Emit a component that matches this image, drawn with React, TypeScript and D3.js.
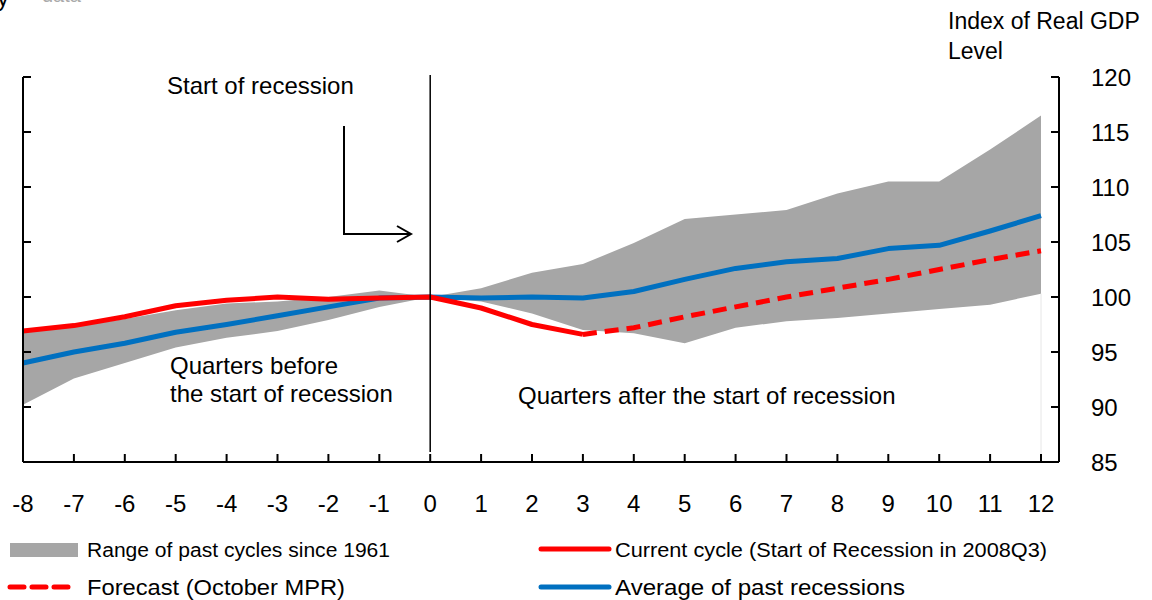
import React from "react";
import * as d3 from "d3";

const quarters = d3.range(-8, 13);
const currentCycle = [96.9, 97.4, 98.2, 99.2, 99.7, 100.0, 99.8, 99.9, 100.0, 99.0, 97.5, 96.6];
const currentQuarters = d3.range(-8, 4);
const forecast = [96.6, 97.2, 98.2, 99.1, 100.0, 100.8, 101.6, 102.5, 103.4, 104.2];
const forecastQuarters = d3.range(3, 13);
const average = [94.0, 95.0, 95.8, 96.8, 97.5, 98.3, 99.1, 99.9, 100.0, 99.9, 100.0, 99.9, 100.5, 101.6, 102.6, 103.2, 103.5, 104.4, 104.7, 106.0, 107.4];
const rangeUpper = [97.0, 97.3, 98.0, 98.8, 99.4, 99.6, 100.0, 100.6, 100.0, 100.8, 102.2, 103.0, 104.9, 107.1, 107.5, 107.9, 109.4, 110.5, 110.5, 113.4, 116.5];
const rangeLower = [90.2, 92.6, 94.0, 95.4, 96.3, 96.9, 97.9, 99.1, 100.0, 99.6, 98.5, 97.0, 96.7, 95.8, 97.2, 97.8, 98.1, 98.5, 98.9, 99.3, 100.3];
const yTicks = [85, 90, 95, 100, 105, 110, 115, 120];

const FONT = "'Liberation Sans', Arial, sans-serif";

export default function App() {
  const x = d3.scaleLinear().domain([-8, 12]).range([23, 1041]);
  const y = d3.scaleLinear().domain([85, 120]).range([462, 77]);
  const leftX = 23;
  const rightX = 1059;

  const area = d3
    .area<number>()
    .x((q) => x(q))
    .y0((_, i) => y(rangeLower[i]))
    .y1((_, i) => y(rangeUpper[i]));
  const line = d3.line<[number, number]>().x((d) => x(d[0])).y((d) => y(d[1]));

  const curPts = currentQuarters.map((q, i) => [q, currentCycle[i]] as [number, number]);
  const fcPts = forecastQuarters.map((q, i) => [q, forecast[i]] as [number, number]);
  const avgPts = quarters.map((q, i) => [q, average[i]] as [number, number]);

  return (
    <svg width={1152} height={600} style={{ position: "absolute", left: 0, top: 0, background: "#fff" }} fontFamily={FONT}>
      <text x={-3} y={6} fontSize={24} fill="#000">y</text>
      <text x={42} y={2} fontSize={20} fill="#aaa">data</text>

      <path d={area(quarters) || ""} fill="#a6a6a6" />
      <line x1={x(12)} x2={x(12)} y1={y(rangeLower[20])} y2={y(85)} stroke="#e6e6e6" strokeWidth={1} />

      <path d={line(avgPts) || ""} fill="none" stroke="#0070c0" strokeWidth={5} strokeLinejoin="round" />
      <path d={line(curPts) || ""} fill="none" stroke="#ff0000" strokeWidth={5} strokeLinejoin="round" />
      <path d={line(fcPts) || ""} fill="none" stroke="#ff0000" strokeWidth={5} strokeDasharray="14 8" />

      {/* axes */}
      <line x1={leftX} x2={leftX} y1={y(120)} y2={y(85)} stroke="#000" strokeWidth={2} />
      <line x1={rightX} x2={rightX} y1={y(120)} y2={y(85)} stroke="#000" strokeWidth={2} />
      <line x1={leftX} x2={rightX} y1={y(85)} y2={y(85)} stroke="#000" strokeWidth={2} />
      {yTicks.map((t) => (
        <g key={t}>
          <line x1={leftX} x2={leftX + 8} y1={y(t)} y2={y(t)} stroke="#000" strokeWidth={2} />
          <line x1={rightX - 8} x2={rightX} y1={y(t)} y2={y(t)} stroke="#000" strokeWidth={2} />
          <text x={1091} y={y(t) + 9} fontSize={24} fill="#000">{t}</text>
        </g>
      ))}
      {quarters.map((q) => (
        <g key={q}>
          <line x1={x(q)} x2={x(q)} y1={y(85)} y2={y(85) - 8} stroke="#000" strokeWidth={2} />
          <text x={x(q)} y={512} fontSize={24} textAnchor="middle" fill="#000">{q}</text>
        </g>
      ))}

      {/* start of recession */}
      <line x1={x(0)} x2={x(0)} y1={75} y2={452} stroke="#000" strokeWidth={1.5} />
      <path d="M344,126 L344,234 L410,234" fill="none" stroke="#000" strokeWidth={2} />
      <path d="M397,226 L411,234 L397,242" fill="none" stroke="#000" strokeWidth={2} />

      <text x={167} y={94} fontSize={24} fill="#000">Start of recession</text>
      <text x={170} y={374} fontSize={24} fill="#000">Quarters before</text>
      <text x={170} y={402} fontSize={24} fill="#000">the start of recession</text>
      <text x={518} y={404} fontSize={24} fill="#000">Quarters after the start of recession</text>
      <text x={948} y={29} fontSize={23} fill="#000">Index of Real GDP</text>
      <text x={948} y={59} fontSize={23} fill="#000">Level</text>

      {/* legend */}
      <rect x={10} y={543} width={68} height={14} fill="#a6a6a6" />
      <text x={87} y={557} fontSize={20} textLength={303} lengthAdjust="spacingAndGlyphs" fill="#000">Range of past cycles since 1961</text>
      <line x1={541} x2={609} y1={549} y2={549} stroke="#ff0000" strokeWidth={5} strokeLinecap="round" />
      <text x={615} y={557} fontSize={20} textLength={432} lengthAdjust="spacingAndGlyphs" fill="#000">Current cycle (Start of Recession in 2008Q3)</text>
      <line x1={10} x2={70} y1={587} y2={587} stroke="#ff0000" strokeWidth={5} strokeDasharray="14 8" strokeLinecap="round" />
      <text x={87} y={595} fontSize={22} textLength={258} lengthAdjust="spacingAndGlyphs" fill="#000">Forecast (October MPR)</text>
      <line x1={541} x2={609} y1={587} y2={587} stroke="#0070c0" strokeWidth={5} strokeLinecap="round" />
      <text x={615} y={595} fontSize={22} textLength={290} lengthAdjust="spacingAndGlyphs" fill="#000">Average of past recessions</text>
    </svg>
  );
}
